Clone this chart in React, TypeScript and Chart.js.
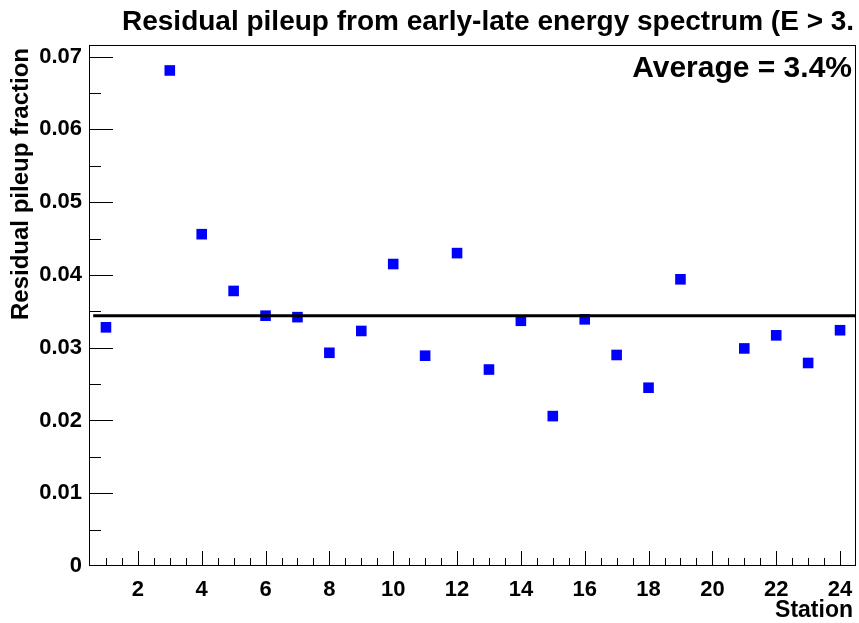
import React, { useEffect, useRef } from "react";
import { Chart, registerables } from "chart.js";

Chart.register(...registerables);

// ---- data ----
const stations = [1, 3, 4, 5, 6, 7, 8, 9, 10, 11, 12, 13, 14, 15, 16, 17, 18, 19, 21, 22, 23, 24];
const pileupFraction = [
  0.0328, 0.0681, 0.0456, 0.0378, 0.0344, 0.0342, 0.0293, 0.0323, 0.0415, 0.0289, 0.043,
  0.027, 0.0337, 0.0206, 0.0339, 0.029, 0.0245, 0.0394, 0.0299, 0.0317, 0.0279, 0.0324,
];
const averageFraction = 0.0344;
const averageLineStations = [0.6, 24.5];

const xTickValues = [2, 4, 6, 8, 10, 12, 14, 16, 18, 20, 22, 24];
const yTickValues = [0, 0.01, 0.02, 0.03, 0.04, 0.05, 0.06, 0.07];
const xRange = [0.5, 24.5];
const yRange = [0, 0.0716];
const xMinorStep = 0.5;
const yMinorStep = 0.005;

const titleText = "Residual pileup from early-late energy spectrum (E > 3.";
const xTitleText = "Station";
const yTitleText = "Residual pileup fraction";
const averageText = "Average = 3.4%";

const FONT = '"Liberation Sans", Arial, Helvetica, sans-serif';

const rootStyle = {
  id: "rootStyle",
  afterDatasetsDraw(chart: any) {
    const { ctx, chartArea } = chart;
    const { left, right, top, bottom } = chartArea;
    const xs = chart.scales.x;
    const ys = chart.scales.y;
    ctx.save();
    ctx.strokeStyle = "#000";
    ctx.lineWidth = 1;
    // frame
    ctx.strokeRect(left - 0.5, top + 0.5, right - left, bottom - top - 1);
    ctx.beginPath();
    // x ticks
    for (let v = xRange[0] + xMinorStep; v < xRange[1] - 1e-9; v += xMinorStep) {
      const px = Math.round(xs.getPixelForValue(v)) + 0.5;
      const isMajor = xTickValues.some((t) => Math.abs(t - v) < 1e-9);
      const len = isMajor ? 15 : 8;
      ctx.moveTo(px, bottom);
      ctx.lineTo(px, bottom - len);
    }
    // y ticks
    for (let v = yRange[0] + yMinorStep; v < yRange[1] - 1e-9; v += yMinorStep) {
      const py = Math.round(ys.getPixelForValue(v)) + 0.5;
      const isMajor = yTickValues.some((t) => Math.abs(t - v) < 1e-9);
      const len = isMajor ? 23 : 11;
      ctx.moveTo(left, py);
      ctx.lineTo(left + len, py);
    }
    ctx.stroke();
    ctx.restore();
  },
  afterDraw(chart: any) {
    const { ctx } = chart;
    ctx.save();
    ctx.fillStyle = "#000";
    ctx.textBaseline = "alphabetic";
    // main title
    ctx.font = `bold 28px ${FONT}`;
    ctx.textAlign = "left";
    ctx.fillText(titleText, 122, 30);
    // average label
    ctx.font = `bold 30px ${FONT}`;
    ctx.textAlign = "right";
    ctx.fillText(averageText, 852, 77);
    // x title
    ctx.font = `bold 23px ${FONT}`;
    ctx.textAlign = "right";
    ctx.fillText(xTitleText, 853, 617);
    // y title
    ctx.font = `bold 24px ${FONT}`;
    ctx.translate(28, 48);
    ctx.rotate(-Math.PI / 2);
    ctx.textAlign = "right";
    ctx.fillText(yTitleText, 0, 0);
    ctx.restore();
  },
};

export default function App() {
  const canvasRef = useRef<HTMLCanvasElement | null>(null);

  useEffect(() => {
    document.body.style.margin = "0";
    const canvas = canvasRef.current;
    if (!canvas) return;
    const chart = new Chart(canvas, {
      type: "scatter",
      data: {
        datasets: [
          {
            type: "line",
            data: averageLineStations.map((x) => ({ x, y: averageFraction })),
            borderColor: "#000",
            borderWidth: 3,
            pointRadius: 0,
            fill: false,
          } as any,
          {
            type: "scatter",
            data: stations.map((s, i) => ({ x: s, y: pileupFraction[i] })),
            backgroundColor: "#0000ff",
            borderWidth: 0,
            pointStyle: "rect",
            pointRadius: 7.5,
            pointHoverRadius: 7.5,
          },
        ],
      },
      options: {
        responsive: false,
        animation: false,
        devicePixelRatio: 1,
        events: [],
        layout: { autoPadding: false, padding: { top: 45, right: 3, left: 0, bottom: 0 } },
        plugins: {
          legend: { display: false },
          title: { display: false },
          tooltip: { enabled: false },
        },
        scales: {
          x: {
            type: "linear",
            min: xRange[0],
            max: xRange[1],
            grid: { display: false, drawTicks: false },
            border: { display: false },
            afterBuildTicks: (scale: any) => {
              scale.ticks = xTickValues.map((value) => ({ value }));
            },
            afterFit: (scale: any) => {
              scale.height = 57;
              scale.paddingLeft = 0;
              scale.paddingRight = 0;
            },
            ticks: {
              autoSkip: false,
              maxRotation: 0,
              padding: 13,
              color: "#000",
              font: { family: FONT, size: 22, weight: "bold", lineHeight: 1 },
              callback: (v: any) => String(v),
            },
          },
          y: {
            type: "linear",
            min: yRange[0],
            max: yRange[1],
            grid: { display: false, drawTicks: false },
            border: { display: false },
            afterBuildTicks: (scale: any) => {
              scale.ticks = yTickValues.map((value) => ({ value }));
            },
            afterFit: (scale: any) => {
              scale.width = 90;
              scale.paddingTop = 0;
              scale.paddingBottom = 0;
            },
            ticks: {
              autoSkip: false,
              padding: 8,
              color: "#000",
              font: { family: FONT, size: 22, weight: "bold", lineHeight: 1 },
              callback: (v: any) => (Number(v) === 0 ? "0" : Number(v).toFixed(2)),
            },
          },
        },
      },
      plugins: [rootStyle],
    });
    return () => chart.destroy();
  }, []);

  return (
    <canvas
      ref={canvasRef}
      width={859}
      height={623}
      style={{ display: "block", width: 859, height: 623 }}
    />
  );
}
